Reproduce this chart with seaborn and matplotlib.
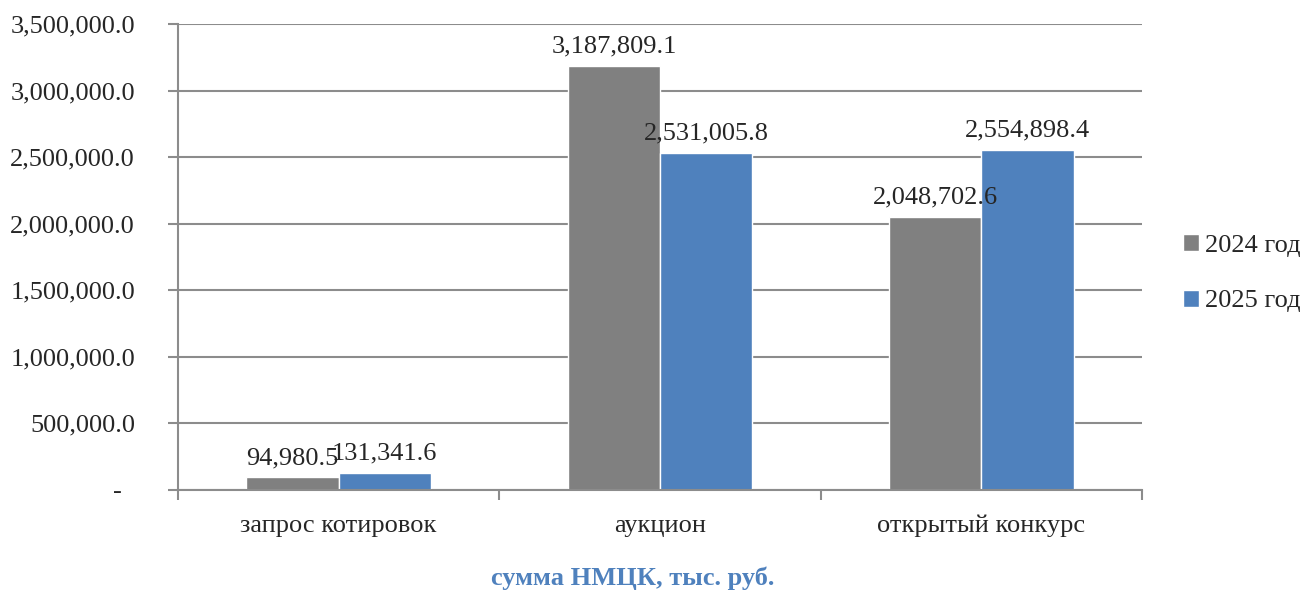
import matplotlib
matplotlib.use("Agg")
from matplotlib import pyplot as plt
import seaborn as sns
import pandas as pd

categories = ["запрос котировок", "аукцион", "открытый конкурс"]
years = ["2024 год", "2025 год"]
values_2024 = [94980.5, 3187809.1, 2048702.6]
values_2025 = [131341.6, 2531005.8, 2554898.4]
yticks = [0, 500000, 1000000, 1500000, 2000000, 2500000, 3000000, 3500000]

df = pd.DataFrame({
    "cat": categories * 2,
    "year": [years[0]] * 3 + [years[1]] * 3,
    "val": values_2024 + values_2025,
})

sns.set_style("white")
plt.rcParams["font.family"] = ["Liberation Serif", "DejaVu Serif"]

grid_c = "#8c8c8c"
fig = plt.figure(figsize=(13.04, 5.92), dpi=100)
ax = fig.add_axes([0.1365, 0.1723, 0.7393, 0.7872])

sns.barplot(data=df, x="cat", y="val", hue="year", order=categories, hue_order=years,
            palette=["#808080", "#4f81bd"], width=0.574, saturation=1, ax=ax)

for cont in ax.containers:
    ax.bar_label(cont, labels=[f"{b.get_height():,.1f}" for b in cont], padding=6, fontsize=19)

ax.set_xlim(-0.5, 2.5)
ax.set_ylim(0, 3500000)
ax.set_yticks(yticks)
ax.set_yticklabels(["-  " if v == 0 else f"{v:,.1f}" for v in yticks], fontsize=19)
ax.yaxis.grid(True, color=grid_c, linewidth=1.5)
ax.set_axisbelow(True)
ax.set_xlabel("")
ax.set_ylabel("")

for s in ["top", "right"]:
    ax.spines[s].set_visible(False)
for s in ["left", "bottom"]:
    ax.spines[s].set_color(grid_c)
    ax.spines[s].set_linewidth(1.5)

ax.set_xticks([0, 1, 2])
ax.set_xticklabels(categories, fontsize=19)
ax.tick_params(axis="x", length=0, pad=18)
ax.tick_params(axis="y", length=7, width=1.5, color=grid_c, pad=24, left=True)
# category boundary ticks
ax.set_xticks([-0.5, 0.5, 1.5, 2.5], minor=True)
ax.tick_params(axis="x", which="minor", length=7, width=1.5, color=grid_c, bottom=True)

ax.legend(loc="center left", bbox_to_anchor=(1.043, 0.465), frameon=False, fontsize=19,
          handlelength=0.6, handleheight=0.6, handletextpad=0.2, labelspacing=1.25,
          borderpad=0, borderaxespad=0)

fig.text(0.485, 0.024, "сумма НМЦК, тыс. руб.", ha="center", va="center",
         fontsize=19, fontweight="bold", color="#4f81bd")

fig.savefig("out.png", dpi=100)
